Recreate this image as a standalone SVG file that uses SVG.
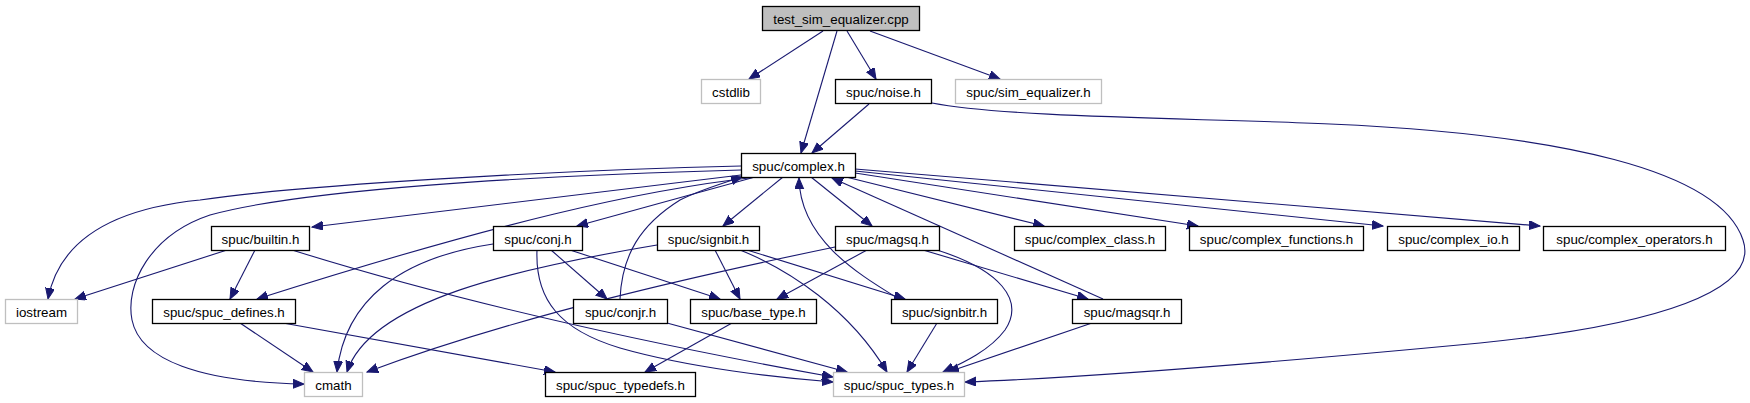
<svg xmlns="http://www.w3.org/2000/svg" width="1750" height="403" viewBox="0 0 1750 403">
<defs>
<style>
.n rect{fill:#ffffff;stroke:#000000;stroke-width:1.3}
.n.root rect{fill:#bfbfbf}
.n.ext rect{stroke:#bfbfbf}
.n text{font-family:"Liberation Sans",Arial,Helvetica,sans-serif;font-size:13.33px;fill:#000000;text-anchor:middle}
.e path{fill:none;stroke:#191970;stroke-width:1.1;marker-end:url(#arr)}
</style>
<marker id="arr" markerWidth="12" markerHeight="10" refX="11" refY="4.5" orient="auto" markerUnits="userSpaceOnUse">
<path d="M0,0 L11,4.5 L0,9 z" fill="#191970" stroke="#191970" stroke-width="1"/>
</marker>
</defs>
<rect width="1750" height="403" fill="#ffffff"/>
<g class="e" id="edges">
<path d="M823,31 L749,79"/>
<path d="M837,31 L801,153"/>
<path d="M847,31 L876,79"/>
<path d="M870,31 L1000,79"/>
<path d="M869,104 L812,153"/>
<path d="M932,103 C1010,118 1200,118 1330,124 C1560,134 1720,170 1743,240 C1760,290 1660,325 1480,343 C1300,360 1100,377 965,382"/>
<path d="M741,166 C560,170 300,185 200,200 C120,208 60,235 48,299"/>
<path d="M741,170 C520,176 300,190 210,215 C150,235 125,285 132,320 C140,360 200,382 304,384"/>
<path d="M741,175 L312,227"/>
<path d="M757,177 C640,190 500,222 257,299"/>
<path d="M755,177 L577,226"/>
<path d="M783,177 L723,226"/>
<path d="M811,177 L872,226"/>
<path d="M846,177 L1044,226"/>
<path d="M855,173 L1198,226"/>
<path d="M855,171 L1383,226"/>
<path d="M855,169 L1540,226"/>
<path d="M620,299 C622,255 640,225 680,200 C700,190 720,184 742,177"/>
<path d="M899,299 C860,275 800,240 799,178"/>
<path d="M1103,299 L832,178"/>
<path d="M227,250 L75,299"/>
<path d="M255,250 L230,299"/>
<path d="M292,250 C420,290 600,335 833,377"/>
<path d="M493,244 C400,258 345,300 337,372"/>
<path d="M551,250 L607,299"/>
<path d="M570,250 L720,299"/>
<path d="M537,250 C535,300 560,330 620,348 C690,368 780,378 833,382"/>
<path d="M657,245 C520,268 370,300 347,372"/>
<path d="M715,250 L740,299"/>
<path d="M747,250 L905,299"/>
<path d="M740,250 C790,270 850,310 887,372"/>
<path d="M835,247 C700,275 520,315 367,372"/>
<path d="M867,250 L777,299"/>
<path d="M923,250 L1088,299"/>
<path d="M937,250 C1000,270 1025,300 1005,330 C990,350 965,362 943,372"/>
<path d="M240,323 L313,372"/>
<path d="M283,323 L555,372"/>
<path d="M667,323 L847,372"/>
<path d="M732,323 L645,372"/>
<path d="M937,323 L907,372"/>
<path d="M1092,323 L948,372"/>
</g>
<g class="n root" id="test_sim_equalizer_cpp"><rect x="762.5" y="6.5" width="157" height="24"/><text x="841" y="23.5">test_sim_equalizer.cpp</text></g>
<g class="n ext" id="cstdlib"><rect x="701.5" y="79.5" width="59" height="24"/><text x="731" y="96.5">cstdlib</text></g>
<g class="n" id="noise_h"><rect x="835.5" y="79.5" width="96" height="24"/><text x="883.5" y="96.5">spuc/noise.h</text></g>
<g class="n ext" id="sim_equalizer_h"><rect x="955.5" y="79.5" width="146" height="24"/><text x="1028.5" y="96.5">spuc/sim_equalizer.h</text></g>
<g class="n" id="complex_h"><rect x="741.5" y="153.5" width="114" height="24"/><text x="798.5" y="170.5">spuc/complex.h</text></g>
<g class="n" id="builtin_h"><rect x="211.5" y="226.5" width="98" height="24"/><text x="260.5" y="243.5">spuc/builtin.h</text></g>
<g class="n" id="conj_h"><rect x="493.5" y="226.5" width="89" height="24"/><text x="538" y="243.5">spuc/conj.h</text></g>
<g class="n" id="signbit_h"><rect x="657.5" y="226.5" width="102" height="24"/><text x="708.5" y="243.5">spuc/signbit.h</text></g>
<g class="n" id="magsq_h"><rect x="835.5" y="226.5" width="104" height="24"/><text x="887.5" y="243.5">spuc/magsq.h</text></g>
<g class="n" id="complex_class_h"><rect x="1014.5" y="226.5" width="151" height="24"/><text x="1090" y="243.5">spuc/complex_class.h</text></g>
<g class="n" id="complex_functions_h"><rect x="1189.5" y="226.5" width="174" height="24"/><text x="1276.5" y="243.5">spuc/complex_functions.h</text></g>
<g class="n" id="complex_io_h"><rect x="1387.5" y="226.5" width="132" height="24"/><text x="1453.5" y="243.5">spuc/complex_io.h</text></g>
<g class="n" id="complex_operators_h"><rect x="1543.5" y="226.5" width="182" height="24"/><text x="1634.5" y="243.5">spuc/complex_operators.h</text></g>
<g class="n ext" id="iostream"><rect x="5.5" y="299.5" width="72" height="24"/><text x="41.5" y="316.5">iostream</text></g>
<g class="n" id="spuc_defines_h"><rect x="152.5" y="299.5" width="143" height="24"/><text x="224" y="316.5">spuc/spuc_defines.h</text></g>
<g class="n" id="conjr_h"><rect x="573.5" y="299.5" width="94" height="24"/><text x="620.5" y="316.5">spuc/conjr.h</text></g>
<g class="n" id="base_type_h"><rect x="690.5" y="299.5" width="126" height="24"/><text x="753.5" y="316.5">spuc/base_type.h</text></g>
<g class="n" id="signbitr_h"><rect x="891.5" y="299.5" width="106" height="24"/><text x="944.5" y="316.5">spuc/signbitr.h</text></g>
<g class="n" id="magsqr_h"><rect x="1072.5" y="299.5" width="109" height="24"/><text x="1127" y="316.5">spuc/magsqr.h</text></g>
<g class="n ext" id="cmath"><rect x="304.5" y="372.5" width="58" height="24"/><text x="333.5" y="389.5">cmath</text></g>
<g class="n" id="spuc_typedefs_h"><rect x="545.5" y="372.5" width="150" height="24"/><text x="620.5" y="389.5">spuc/spuc_typedefs.h</text></g>
<g class="n ext" id="spuc_types_h"><rect x="833.5" y="372.5" width="131" height="24"/><text x="899" y="389.5">spuc/spuc_types.h</text></g>
</svg>
